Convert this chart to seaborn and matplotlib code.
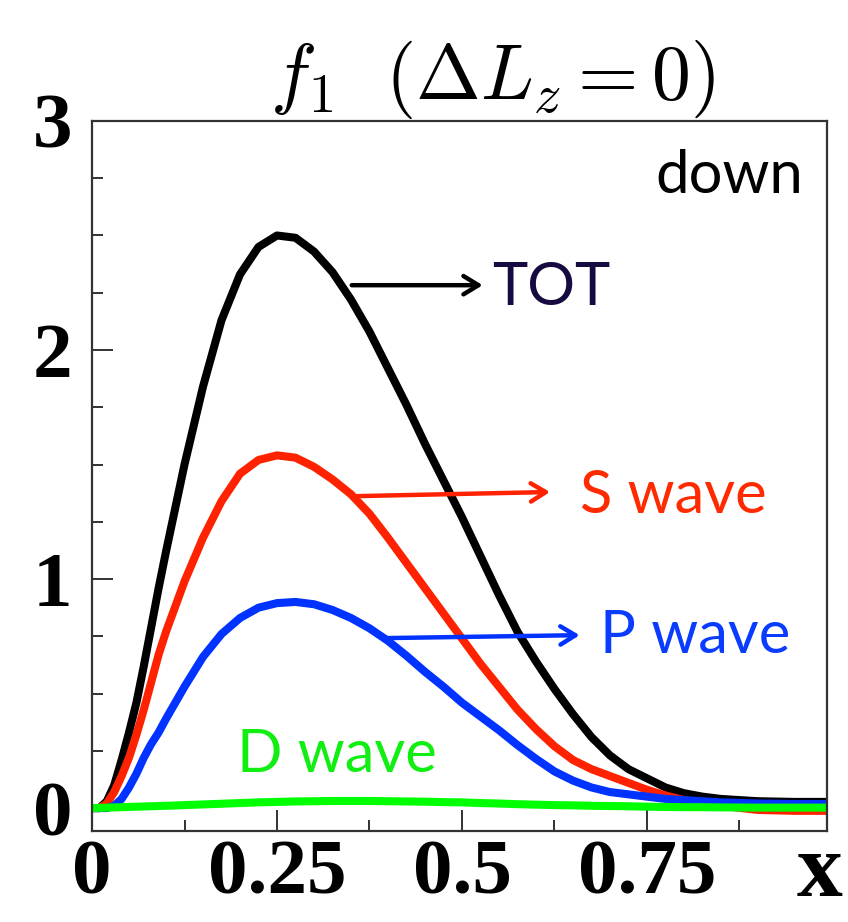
import numpy as np
import pandas as pd
import matplotlib
matplotlib.use("Agg")
import matplotlib.pyplot as plt
from matplotlib.ticker import MultipleLocator, FixedLocator
import seaborn as sns

# Momentum fraction grid
x = [0.0, 0.01, 0.02, 0.03, 0.04, 0.05, 0.06, 0.07, 0.08, 0.09, 0.10,
     0.125, 0.15, 0.175, 0.20, 0.225, 0.25, 0.275, 0.30, 0.325, 0.35,
     0.375, 0.40, 0.425, 0.45, 0.475, 0.50, 0.525, 0.55, 0.575, 0.60,
     0.625, 0.65, 0.675, 0.70, 0.725, 0.75, 0.775, 0.80, 0.825, 0.85,
     0.90, 0.95, 0.993]

tot = [0.0, 0.0, 0.03, 0.10, 0.21, 0.33, 0.46, 0.62, 0.79, 0.96, 1.12,
       1.50, 1.84, 2.13, 2.33, 2.45, 2.50, 2.49, 2.43, 2.34, 2.22,
       2.08, 1.92, 1.76, 1.59, 1.43, 1.27, 1.10, 0.93, 0.77, 0.64,
       0.52, 0.41, 0.31, 0.23, 0.17, 0.13, 0.09, 0.065, 0.05, 0.04,
       0.03, 0.027, 0.027]
s_wave = [0.0, 0.0, 0.02, 0.07, 0.14, 0.22, 0.32, 0.43, 0.55, 0.67, 0.77,
          0.99, 1.18, 1.34, 1.46, 1.52, 1.54, 1.53, 1.49, 1.435, 1.37,
          1.285, 1.18, 1.07, 0.96, 0.85, 0.74, 0.63, 0.53, 0.43, 0.345,
          0.27, 0.21, 0.17, 0.14, 0.11, 0.08, 0.055, 0.035, 0.02, 0.01,
          -0.008, -0.012, -0.012]
p_wave = [0.0, 0.0, 0.0, 0.01, 0.04, 0.09, 0.15, 0.22, 0.28, 0.33, 0.39,
          0.53, 0.66, 0.76, 0.83, 0.875, 0.895, 0.90, 0.89, 0.865, 0.83,
          0.785, 0.73, 0.665, 0.595, 0.53, 0.46, 0.40, 0.34, 0.275, 0.215,
          0.16, 0.12, 0.09, 0.07, 0.06, 0.05, 0.04, 0.035, 0.03, 0.025,
          0.02, 0.018, 0.018]
d_wave = [0.0, 0.001, 0.002, 0.003, 0.004, 0.005, 0.006, 0.007, 0.008, 0.009, 0.01,
          0.013, 0.016, 0.019, 0.022, 0.025, 0.027, 0.029, 0.03, 0.031, 0.031,
          0.031, 0.03, 0.029, 0.028, 0.026, 0.025, 0.022, 0.02, 0.017, 0.015,
          0.013, 0.012, 0.01, 0.009, 0.008, 0.006, 0.005, 0.004, 0.004, 0.003,
          0.002, 0.002, 0.002]

series_names = ["TOT", "S wave", "P wave", "D wave"]
line_colors = {"TOT": "#000000", "S wave": "#ff2200",
               "P wave": "#0033ff", "D wave": "#00ff00"}
label_colors = {"TOT": "#170a40", "S wave": "#ff2a00",
                "P wave": "#0a3cff", "D wave": "#11ee11"}

x_ticks = [0, 0.25, 0.5, 0.75]
x_ticklabels = ["0", "0.25", "0.5", "0.75"]
y_ticks = [0, 1, 2, 3]
y_ticklabels = ["0", "1", "2", "3"]

df = pd.DataFrame({
    "x": x * 4,
    "f": tot + s_wave + p_wave + d_wave,
    "wave": sum([[n] * len(x) for n in series_names], []),
})

sns.set_theme(style="white")
plt.rcParams["mathtext.fontset"] = "cm"

fig = plt.figure(figsize=(8.48, 9.22), dpi=100)
ax = fig.add_axes([0.1085, 0.0987, 0.975 - 0.1085, 0.8688 - 0.0987])

sns.lineplot(data=df, x="x", y="f", hue="wave", hue_order=series_names,
             palette=line_colors, linewidth=5.8, legend=False, ax=ax,
             solid_capstyle="round", solid_joinstyle="round")

ax.set_xlim(0, 0.993)
ax.set_ylim(-0.1, 3.0)
ax.set_xlabel("")
ax.set_ylabel("")

ax.xaxis.set_major_locator(FixedLocator(x_ticks))
ax.xaxis.set_minor_locator(FixedLocator([0.125, 0.375, 0.625, 0.875]))
ax.yaxis.set_major_locator(FixedLocator(y_ticks))
ax.yaxis.set_minor_locator(MultipleLocator(0.25))
ax.set_xticklabels(x_ticklabels)
ax.set_yticklabels(y_ticklabels)

for lab in ax.get_xticklabels() + ax.get_yticklabels():
    lab.set_fontfamily("Liberation Serif")
    lab.set_fontweight("bold")
    lab.set_fontsize(57)
    lab.set_color("black")

ax.tick_params(axis="both", which="major", direction="in", length=15,
               width=1.3, color="#222222", bottom=True, left=True)
ax.tick_params(axis="both", which="minor", direction="in", length=8,
               width=1.3, color="#222222", bottom=True, left=True)
ax.tick_params(axis="x", which="major", pad=6)
ax.tick_params(axis="y", which="major", pad=14)

for sp in ax.spines.values():
    sp.set_color("#333333")
    sp.set_linewidth(1.6)

# Arrows pointing from curves to their labels
arrows = [
    ((0.351, 2.283), (0.528, 2.283), "#000000"),
    ((0.358, 1.362), (0.619, 1.380), "#ff2200"),
    ((0.393, 0.742), (0.659, 0.755), "#0033ff"),
]
for start, end, col in arrows:
    ax.annotate("", xy=end, xytext=start,
                arrowprops=dict(arrowstyle="->,head_length=0.9,head_width=0.55",
                                color=col, lw=3.2, shrinkA=0, shrinkB=0))

label_pos = {"TOT": (0.5405, 2.197), "S wave": (0.659, 1.288),
             "P wave": (0.686, 0.677), "D wave": (0.196, 0.157)}
for name, (lx, ly) in label_pos.items():
    ax.text(lx, ly, name, color=label_colors[name], family="Lato",
            fontsize=43, ha="left", va="baseline")

ax.text(0.761, 2.686, "down", color="black", family="Lato", fontsize=43,
        ha="left", va="baseline")

fig.text(0.581, 0.893, r"$f_1\ \ (\Delta L_z = 0)$", fontsize=56,
         ha="center", va="baseline", color="black")

fig.text(0.967, 0.028, "x", family="Liberation Serif", weight="bold",
         fontsize=66, ha="center", va="baseline", color="black")

fig.savefig("out.png", dpi=100, facecolor="white")
